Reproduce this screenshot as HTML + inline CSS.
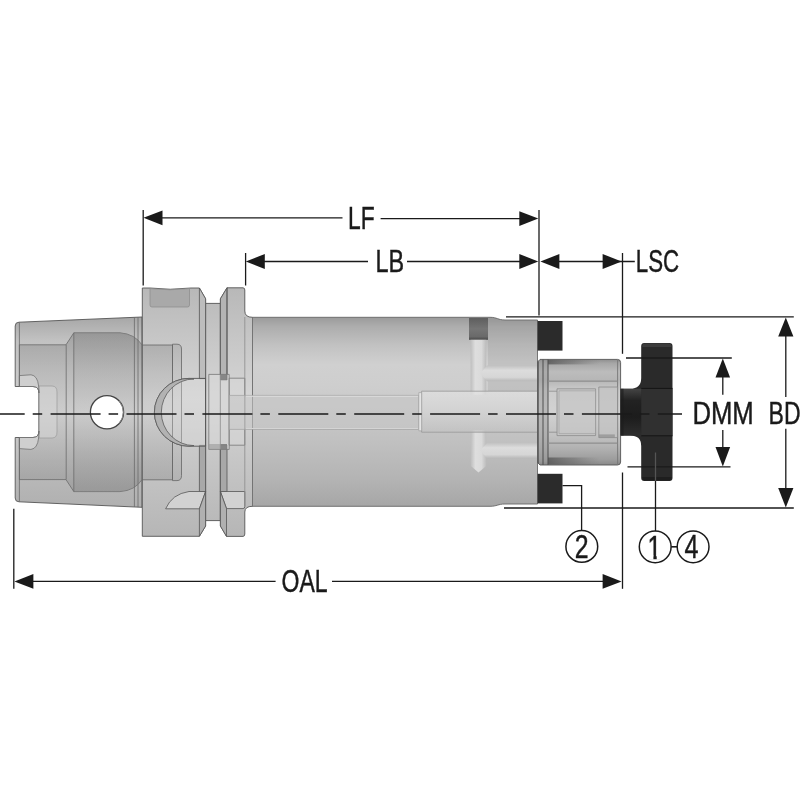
<!DOCTYPE html>
<html><head><meta charset="utf-8"><title>Drawing</title>
<style>
html,body{margin:0;padding:0;background:#fff;}
body{width:800px;height:800px;overflow:hidden;}
svg{display:block;}
text{font-family:"Liberation Sans",sans-serif;fill:#1a1a1a;}
</style></head><body>
<svg width="800" height="800" viewBox="0 0 800 800">
<defs>
<linearGradient id="gBody" x1="0" y1="317" x2="0" y2="507" gradientUnits="userSpaceOnUse">
<stop offset="0" stop-color="#9a9a9a"/><stop offset="0.05" stop-color="#adadad"/><stop offset="0.15" stop-color="#c2c2c2"/><stop offset="0.25" stop-color="#d0d0d0"/><stop offset="0.36" stop-color="#cecece"/><stop offset="0.5" stop-color="#c8c8c8"/><stop offset="0.66" stop-color="#c0c0c0"/><stop offset="0.85" stop-color="#b4b4b4"/><stop offset="1" stop-color="#a6a6a6"/>
</linearGradient>
<linearGradient id="gFl" x1="0" y1="288" x2="0" y2="536" gradientUnits="userSpaceOnUse">
<stop offset="0" stop-color="#b8b8b8"/><stop offset="0.2" stop-color="#c6c6c6"/><stop offset="0.45" stop-color="#d6d6d6"/><stop offset="0.7" stop-color="#c6c6c6"/><stop offset="1" stop-color="#b6b6b6"/>
</linearGradient>
<linearGradient id="gTp" x1="0" y1="318" x2="0" y2="507" gradientUnits="userSpaceOnUse">
<stop offset="0" stop-color="#a8a8a8"/><stop offset="0.12" stop-color="#c2c2c2"/><stop offset="0.5" stop-color="#d0d0d0"/><stop offset="0.88" stop-color="#b6b6b6"/><stop offset="1" stop-color="#b0b0b0"/>
</linearGradient>
<linearGradient id="gBore" x1="0" y1="333" x2="0" y2="492" gradientUnits="userSpaceOnUse">
<stop offset="0" stop-color="#8c8c8c"/><stop offset="0.25" stop-color="#b0b0b0"/><stop offset="0.5" stop-color="#cacaca"/><stop offset="0.8" stop-color="#a4a4a4"/><stop offset="1" stop-color="#909090"/>
</linearGradient>
<linearGradient id="gNose" x1="0" y1="359" x2="0" y2="465" gradientUnits="userSpaceOnUse">
<stop offset="0" stop-color="#8c8c8c"/><stop offset="0.04" stop-color="#a6a6a6"/><stop offset="0.12" stop-color="#bcbcbc"/><stop offset="0.2" stop-color="#b6b6b6"/><stop offset="0.3" stop-color="#cccccc"/><stop offset="0.5" stop-color="#d2d2d2"/><stop offset="0.72" stop-color="#c2c2c2"/><stop offset="0.85" stop-color="#b0b0b0"/><stop offset="0.95" stop-color="#9c9c9c"/><stop offset="1" stop-color="#888888"/>
</linearGradient>
<linearGradient id="gDkL" x1="548" y1="0" x2="600" y2="0" gradientUnits="userSpaceOnUse">
<stop offset="0" stop-color="#505050" stop-opacity="0.75"/><stop offset="0.5" stop-color="#606060" stop-opacity="0.45"/><stop offset="1" stop-color="#707070" stop-opacity="0"/>
</linearGradient>
<linearGradient id="gNeck" x1="0" y1="388.8" x2="0" y2="435.6" gradientUnits="userSpaceOnUse">
<stop offset="0" stop-color="#444"/><stop offset="0.25" stop-color="#222"/><stop offset="0.6" stop-color="#1c1c1c"/><stop offset="1" stop-color="#2e2e2e"/>
</linearGradient>
<filter id="gray" x="0" y="0" width="800" height="800" filterUnits="userSpaceOnUse" color-interpolation-filters="sRGB"><feColorMatrix type="saturate" values="0"/></filter>
</defs>
<rect width="800" height="800" fill="#fff"/>
<g id="part" stroke-linejoin="round">
<!-- taper -->
<path d="M19,322.2 L142,317 L142,507.3 L19,501.8 Q15.2,501.8 15.2,498 L15.2,437.5 L33,437.5 Q39,437.5 39,431 L39,393 Q39,386.5 33,386.5 L15.2,386.5 L15.2,326 Q15.2,322.2 19,322.2 Z" fill="url(#gTp)" stroke="#555" stroke-width="0.9"/>
<!-- taper internals -->
<g id="taperIn" stroke-linejoin="round">
<path d="M19.4,344.8 L66,344.8 L73.8,332.8 L120,332.8 Q135,334 142,345 L142,479.6 Q135,490.5 120,491.6 L73.8,491.6 L66,479.6 L19.4,479.6 L19.4,437.5 L33,437.5 Q39,437.5 39,431 L39,393 Q39,386.5 33,386.5 L19.4,386.5 Z" fill="url(#gBore)" fill-opacity="0.55" stroke="#6a6a6a" stroke-width="0.8"/>
<path d="M73.8,332.8 L120,332.8 Q135,334 142,345 L142,479.6 Q135,490.5 120,491.6 L73.8,491.6 Z" fill="url(#gBore)" fill-opacity="0.45" stroke="none"/>
<path d="M39,386 L52,386 Q57,386 57,392 L57,432 Q57,438 52,438 L39,438 Z" fill="#d4d4d4" fill-opacity="0.6" stroke="#999" stroke-width="0.7"/>
<path d="M19.4,375.6 L31,374.8 Q37.5,375.5 38.6,386 L39,393 Q39,386.5 33,386.5 L19.4,386.5 Z" fill="#cfcfcf" stroke="#666" stroke-width="0.7"/>
<path d="M19.4,448.6 L31,449.4 Q37.5,448.5 38.6,438 L39,431 Q39,437.5 33,437.5 L19.4,437.5 Z" fill="#cfcfcf" stroke="#666" stroke-width="0.7"/>
<g stroke="#6a6a6a" stroke-width="0.8" fill="none">
<line x1="19.4" y1="322.4" x2="19.4" y2="386.5"/><line x1="19.4" y1="437.5" x2="19.4" y2="501.6"/>
<line x1="66.2" y1="344.8" x2="66.2" y2="479.6"/>
<line x1="73.8" y1="332.8" x2="73.8" y2="491.6"/>
<line x1="134.4" y1="317.4" x2="134.4" y2="507"/>
<line x1="138" y1="317.2" x2="138" y2="507.1"/>
</g>
<circle cx="107" cy="412.2" r="16.6" fill="#fff" stroke="#444" stroke-width="1.3"/>
<path d="M119,401 A16.6,16.6 0 0 1 119,423.4" fill="none" stroke="#888" stroke-width="1"/>
</g>
<!-- body -->
<path d="M252.5,317.3 L490,317.3 C497,317.3 498,320 505,320 L537.5,320 L537.5,504 L505,504 C498,504 497,506.3 490,506.3 L252.5,506.3 Z" fill="url(#gBody)" stroke="#666" stroke-width="0.9"/>
<!-- flange 1 -->
<path d="M142.3,288 L150,288 Q170,290.5 191,288 L199.4,288 L205.6,298.8 L205.6,526 L199.4,536.3 L142.3,536.3 Z" fill="url(#gFl)" stroke="#555" stroke-width="0.9"/>
<!-- groove -->
<rect x="205.6" y="303.4" width="14.8" height="217.2" fill="url(#gFl)" stroke="#555" stroke-width="0.9"/>
<!-- flange 2 -->
<path d="M220.4,298.8 L227,287.8 L243,287.8 Q244.8,287.8 244.8,290 L244.8,311 Q244.8,317.3 252.5,317.3 L252.5,506.3 Q244.8,506.3 244.8,512 L244.8,534 Q244.8,536.4 243,536.4 L226.5,536.4 L220.4,526 Z" fill="url(#gFl)" stroke="#555" stroke-width="0.9"/>
<!-- flange internals -->
<g id="flIn" stroke-linejoin="round">
<!-- pocket -->
<path d="M150,288.6 Q170,291 189.5,288.6 L189.5,305 Q189.5,307 187.5,307 L152,307 Q150,307 150,305 Z" fill="#a9a9a9" stroke="#8a8a8a" stroke-width="0.7"/>
<!-- chamfer side faces -->
<path d="M199.4,288 L205.6,298.8 L205.6,378.6 L199.4,378.6 Z" fill="#bdbdbd" stroke="#555" stroke-width="0.8"/>
<path d="M199.4,445.4 L205.6,445.4 L205.6,491.5 L199.4,491.5 Z" fill="#a8a8a8" stroke="#555" stroke-width="0.8"/>
<path d="M220.4,298.8 L227,287.8 L227,380 L220.4,380 Z" fill="#b4b4b4" stroke="#555" stroke-width="0.8"/>
<path d="M220.4,445 L227,445 L227,491.5 L220.4,491.5 Z" fill="#a8a8a8" stroke="#555" stroke-width="0.8"/>
<!-- inner bore in flange -->
<path d="M142.3,345 L172.5,345 L172.5,479.8 L142.3,479.8 Z" fill="url(#gBore)" fill-opacity="0.5" stroke="#666" stroke-width="0.8"/>
<path d="M172.5,344.2 L177,344.2 Q181.5,344.2 181.5,349 L181.5,475.6 Q181.5,480.6 177,480.6 L172.5,480.6 Z" fill="url(#gBore)" fill-opacity="0.35" stroke="#666" stroke-width="0.8"/>
<!-- semicircular slot -->
<path d="M205.6,378.4 L189,378.4 A34.6,33.9 0 0 0 189,446.2 L205.6,446.2 Z" fill="#dcdcdc" fill-opacity="0.35" stroke="#555" stroke-width="0.9"/>
<path d="M189,378.4 A34.6,33.9 0 0 0 189,446.2 L194,445.6 A32.6,33.2 0 0 1 194,379 Z" fill="#b2b2b2" stroke="#5a5a5a" stroke-width="0.8"/>
<!-- notch light faces -->
<path d="M165.6,508.8 Q172,494 189,491.5 L205.6,491.5 L199.4,508.8 Z" fill="#d2d2d2" stroke="#555" stroke-width="0.8"/>
<path d="M199.4,508.8 L205.6,491.5 L205.6,526 L199.4,536.3 Z" fill="#b0b0b0" stroke="#555" stroke-width="0.8"/>
<path d="M220.4,491.5 L244.8,491.5 L244.8,506.5 Q244.8,508.6 243,508.6 L226.5,508.6 Z" fill="#d2d2d2" stroke="#555" stroke-width="0.8"/>
<path d="M220.4,491.5 L226.5,508.6 L226.5,536.4 L220.4,526 Z" fill="#b0b0b0" stroke="#555" stroke-width="0.8"/>
<line x1="227" y1="287.8" x2="227" y2="380" stroke="#555" stroke-width="0.8"/>
<!-- neck -->
<line x1="252.5" y1="317.3" x2="252.5" y2="506.3" stroke="#777" stroke-width="0.9"/>
<!-- inner tube -->
<rect x="208.8" y="374.4" width="20.4" height="75" fill="#d8d8d8" fill-opacity="0.55" stroke="#777" stroke-width="0.8"/>
<rect x="229.2" y="378.2" width="15.6" height="67" fill="#d8d8d8" fill-opacity="0.5" stroke="#777" stroke-width="0.8"/>
<rect x="220.4" y="374.4" width="6.6" height="5.6" fill="#777" fill-opacity="0.8"/>
<rect x="220.4" y="444" width="6.6" height="5.4" fill="#777" fill-opacity="0.8"/>
<rect x="208.8" y="444" width="11.6" height="5.4" fill="#999" fill-opacity="0.6"/>
</g>
<!-- body internals -->
<g id="bodyIn" stroke-linejoin="round">
<defs>
<linearGradient id="gTube" x1="0" y1="0" x2="0" y2="1">
<stop offset="0" stop-color="#e2e2e2"/><stop offset="0.5" stop-color="#d6d6d6"/><stop offset="1" stop-color="#c2c2c2"/>
</linearGradient>
<linearGradient id="gPlug" x1="0" y1="0" x2="0" y2="1">
<stop offset="0" stop-color="#5e5e5e"/><stop offset="0.5" stop-color="#757575"/><stop offset="0.85" stop-color="#6a6a6a"/><stop offset="1" stop-color="#4a4a4a"/>
</linearGradient>
<linearGradient id="gChH" x1="0" y1="0" x2="0" y2="1">
<stop offset="0" stop-color="#c2c2c2"/><stop offset="0.3" stop-color="#dcdcdc"/><stop offset="0.75" stop-color="#d6d6d6"/><stop offset="1" stop-color="#b8b8b8"/>
</linearGradient>
<linearGradient id="gChV" x1="0" y1="0" x2="1" y2="0">
<stop offset="0" stop-color="#bebebe"/><stop offset="0.3" stop-color="#dedede"/><stop offset="0.7" stop-color="#dadada"/><stop offset="1" stop-color="#bcbcbc"/>
</linearGradient>
</defs>
<line x1="244.8" y1="317" x2="244.8" y2="506.5" stroke="#8a8a8a" stroke-width="0.8"/>
<path d="M488,318.5 L490,318.3 C497,318.3 498,320.6 505,320.6 L537,320.6 L537,391 L488,391 Z" fill="#7a7a7a" fill-opacity="0.16"/>
<!-- plug -->
<rect x="469" y="318" width="19" height="21.8" fill="url(#gPlug)"/>
<!-- vertical channels -->
<rect x="470.6" y="339.8" width="15.6" height="55" fill="url(#gChV)"/>
<path d="M470.8,430 L486.2,430 L486.2,466 L478.5,472.5 L470.8,466 Z" fill="url(#gChV)"/>
<!-- horizontal channels -->
<path d="M480,373.4 L487,365.6 L537.5,365.6 L537.5,381.2 L487,381.2 Z" fill="url(#gChH)"/>
<path d="M480,450.4 L487,443 L537.5,443 L537.5,458.4 L487,458.4 Z" fill="url(#gChH)"/>
<!-- bore tube -->
<rect x="229.2" y="395.4" width="189.6" height="34" fill="#c6c6c6" fill-opacity="0.55" stroke="#a4a4a4" stroke-width="0.7"/>
<line x1="246" y1="396.3" x2="418" y2="396.3" stroke="#dcdcdc" stroke-width="1"/><line x1="246" y1="428.5" x2="418" y2="428.5" stroke="#d4d4d4" stroke-width="1"/>
<rect x="421.6" y="391.2" width="116" height="41" fill="url(#gTube)" fill-opacity="0.7" stroke="#989898" stroke-width="0.8"/>
<rect x="418.8" y="392.6" width="2.8" height="38.2" fill="#e4e4e4" stroke="#9a9a9a" stroke-width="0.6"/>
</g>
<!-- nose -->
<path d="M537.5,362 L540,359.4 L617.5,359.4 Q620.6,359.4 620.6,362.5 L620.6,462 Q620.6,465 617.5,465 L540,465 L537.5,462.5 Z" fill="url(#gNose)" stroke="#555" stroke-width="0.9"/>
<!-- black seals -->
<rect x="537.6" y="321" width="24.9" height="29.6" fill="#2b2b2b"/>
<rect x="537.6" y="473.8" width="24.9" height="29.6" fill="#2b2b2b"/>
<!-- wheel -->
<path d="M620.6,388.8 L630,388.8 Q641.2,388.8 641.2,378 L641.2,346 Q641.2,343 644.2,343 L669.5,343 Q672.5,343 672.5,346 L672.5,478 Q672.5,481 669.5,481 L644.2,481 Q641.2,481 641.2,478 L641.2,446 Q641.2,435.6 630,435.6 L620.6,435.6 Z" fill="#2a2a2a"/>
<!-- nose internals -->
<g id="noseIn" stroke-linejoin="round">
<rect x="537.5" y="362" width="10.5" height="100.6" fill="#9a9a9a" fill-opacity="0.45"/>
<g stroke="#444" stroke-width="0.9" fill="none">
<line x1="538.2" y1="361.5" x2="538.2" y2="463"/>
<line x1="543" y1="359.6" x2="543" y2="464.8"/>
<line x1="548" y1="359.6" x2="548" y2="464.8"/>
<line x1="617.6" y1="360" x2="617.6" y2="464.4" stroke="#777"/>
</g>
<rect x="548" y="360" width="52" height="4.4" fill="url(#gDkL)"/>
<rect x="548" y="457.5" width="52" height="7" fill="url(#gDkL)"/>
<rect x="548" y="380.4" width="69.6" height="1.6" fill="#8a8a8a" fill-opacity="0.7"/>
<rect x="548" y="442.4" width="69.6" height="1.6" fill="#8a8a8a" fill-opacity="0.7"/>
<line x1="548" y1="391.2" x2="557" y2="391.2" stroke="#8c8c8c" stroke-width="0.8"/><line x1="548" y1="432.2" x2="557" y2="432.2" stroke="#8c8c8c" stroke-width="0.8"/>
<rect x="557" y="388.8" width="38.6" height="46.8" fill="#c6c6c6" fill-opacity="0.7" stroke="#8c8c8c" stroke-width="0.8"/>
<rect x="559" y="390.8" width="36.6" height="42.8" fill="none" stroke="#a2a2a2" stroke-width="0.7"/>
<rect x="598.8" y="387" width="18.8" height="50.6" fill="#c2c2c2" fill-opacity="0.7" stroke="#8c8c8c" stroke-width="0.8"/>
<rect x="598.8" y="434.4" width="16" height="3.2" fill="#8e8e8e" fill-opacity="0.7"/>
</g>
<!-- wheel details -->
<g id="wheelIn">
<path d="M642.2,347 Q642.2,343.6 645,343.6 L668.8,343.6 Q671.6,343.6 671.6,347 Z" fill="#3c3c3c"/>
<path d="M642.2,477 Q642.2,480.4 645,480.4 L668.8,480.4 Q671.6,480.4 671.6,477 Z" fill="#1e1e1e"/>
<rect x="641.2" y="388.6" width="31.3" height="47" fill="#303030"/>
<line x1="641.2" y1="388.4" x2="672.5" y2="388.4" stroke="#151515" stroke-width="1"/>
<line x1="641.2" y1="435.8" x2="672.5" y2="435.8" stroke="#151515" stroke-width="1"/>
<rect x="620.6" y="388.8" width="20.6" height="46.8" fill="url(#gNeck)"/>
<rect x="620.6" y="388.8" width="3" height="46.8" fill="#1c1c1c" fill-opacity="0.6"/>
</g>
</g>
<g id="dims" stroke="#1a1a1a" stroke-width="1.3" fill="none">
<!-- centre line -->
<line x1="-25.3" y1="414" x2="682" y2="414" stroke-dasharray="50 8 9.5 8.4" stroke-width="1.5"/>
<!-- LF -->
<line x1="143.2" y1="210" x2="143.2" y2="285.5"/>
<line x1="539" y1="210" x2="539" y2="315.6"/>
<line x1="160" y1="217.8" x2="342.5" y2="217.8"/><line x1="380.6" y1="218.6" x2="520" y2="218.6"/>
<!-- LB -->
<line x1="245.6" y1="253" x2="245.6" y2="285.5"/>
<line x1="262" y1="261.5" x2="368" y2="261.5"/><line x1="407" y1="261.5" x2="520" y2="261.5"/>
<!-- LSC -->
<line x1="622.5" y1="253" x2="622.5" y2="353.8"/>
<line x1="558" y1="261.5" x2="634.8" y2="261.5"/>
<!-- BD -->
<line x1="506" y1="316.8" x2="793.8" y2="316.8"/>
<line x1="504" y1="508" x2="793.8" y2="508"/>
<line x1="785.8" y1="335" x2="785.8" y2="397"/><line x1="785.8" y1="428.8" x2="785.8" y2="490"/>
<!-- DMM -->
<line x1="626" y1="358" x2="731.8" y2="358"/>
<line x1="627.5" y1="466.8" x2="730.5" y2="466.8"/>
<line x1="722.8" y1="376" x2="722.8" y2="394.8"/><line x1="722.8" y1="430" x2="722.8" y2="448"/>
<!-- OAL -->
<line x1="13.8" y1="508.8" x2="13.8" y2="588.8"/>
<line x1="622.5" y1="472.5" x2="622.5" y2="588.8"/>
<line x1="32" y1="581.4" x2="275.6" y2="581.4"/><line x1="332" y1="581.4" x2="604" y2="581.4"/>
<!-- leaders -->
<polyline points="562.5,485.6 581.6,485.6 581.6,530.8"/>
<line x1="655.5" y1="481" x2="655.5" y2="531.2"/>
<line x1="655.5" y1="452.5" x2="655.5" y2="481" stroke="#555"/>
<line x1="671.2" y1="546.8" x2="677.2" y2="546.8" stroke-width="1.6"/>
<circle cx="581.8" cy="546.4" r="15.9" stroke-width="1.5"/>
<circle cx="655.2" cy="546.8" r="15.9" stroke-width="1.5"/>
<circle cx="693.1" cy="546.8" r="15.9" stroke-width="1.5"/>
</g>
<g id="arrows" fill="#1a1a1a">
<path d="M143.5,217.8 l19,-7.4 v14.8 z"/>
<path d="M538.3,218.6 l-19,-7.4 v14.8 z"/>
<path d="M245.8,261.5 l19,-7.4 v14.8 z"/>
<path d="M538.3,261.5 l-19,-7.4 v14.8 z"/>
<path d="M540.4,261.5 l19,-7.4 v14.8 z"/>
<path d="M621.6,261.5 l-19,-7.4 v14.8 z"/>
<path d="M14.4,581.4 l19,-7.4 v14.8 z"/>
<path d="M621.6,581.4 l-19,-7.4 v14.8 z"/>
<path d="M785.8,317.4 l-7.6,19.2 h15.2 z"/>
<path d="M785.8,507.6 l-7.6,-19.6 h15.2 z"/>
<path d="M722.8,358.4 l-7.3,19 h14.6 z"/>
<path d="M722.8,466.6 l-7.3,-19.6 h14.6 z"/>
</g>
<g id="labels" font-size="31.2" filter="url(#gray)" stroke="#1a1a1a" stroke-width="0.45">
<text x="348" y="228.7" textLength="26.6" lengthAdjust="spacingAndGlyphs">LF</text>
<text x="375.4" y="272.4" textLength="28.6" lengthAdjust="spacingAndGlyphs">LB</text>
<text x="635.8" y="271.8" textLength="43.4" lengthAdjust="spacingAndGlyphs">LSC</text>
<text x="692.4" y="423.6" textLength="61.4" lengthAdjust="spacingAndGlyphs">DMM</text>
<text x="768.6" y="423.6" textLength="32" lengthAdjust="spacingAndGlyphs">BD</text>
<text x="281.6" y="591.8" textLength="46" lengthAdjust="spacingAndGlyphs">OAL</text>
<text x="574.8" y="558" font-size="32.6" textLength="13.8" lengthAdjust="spacingAndGlyphs">2</text>
<text x="647.6" y="558.5" font-size="32.6" textLength="13.8" lengthAdjust="spacingAndGlyphs">1</text>
<text x="684.6" y="558.3" font-size="32.6" textLength="14" lengthAdjust="spacingAndGlyphs">4</text>
<rect x="647.6" y="555.5" width="5.8" height="4.2" fill="#fff" stroke="none" filter="none"/><rect x="656.7" y="555.5" width="5.4" height="4.2" fill="#fff" stroke="none"/>
</g>
</svg>
</body></html>
